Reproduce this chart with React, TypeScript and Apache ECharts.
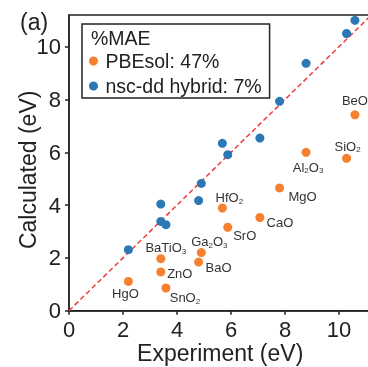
import React, { useEffect, useRef } from "react";
import * as echarts from "echarts";

const materials = ["HgO", "BaTiO3", "ZnO", "SnO2", "BaO", "Ga2O3", "SrO", "HfO2", "CaO", "MgO", "Al2O3", "SiO2", "BeO"];
const experiment = [2.2, 3.4, 3.4, 3.59, 4.8, 4.9, 5.88, 5.68, 7.07, 7.8, 8.78, 10.28, 10.59];
const pbesol = [1.11, 1.97, 1.47, 0.86, 1.84, 2.2, 3.16, 3.89, 3.53, 4.65, 6.0, 5.77, 7.42];
const hybrid = [2.31, 3.38, 4.04, 3.26, 4.17, 4.82, 5.91, 6.34, 6.54, 7.93, 9.37, 10.5, 11.0];
const tickValues = [0, 2, 4, 6, 8, 10];
const seriesNames = ["PBEsol: 47%", "nsc-dd hybrid: 7%"];

// label placement (offset from point centre, px)
const labelOffsets: Record<string, [number, number]> = {
  HgO: [-3, 12],
  BaTiO3: [5, -11],
  ZnO: [19, 2],
  SnO2: [19, 10],
  BaO: [20, 5],
  Ga2O3: [8, -11],
  SrO: [17, 8],
  HfO2: [7, -10],
  CaO: [20, 5],
  MgO: [23, 9],
  Al2O3: [2, 15],
  SiO2: [1, -12],
  BeO: [0, -14],
};

const FONT = "Liberation Sans, Arial, Helvetica, sans-serif";
const INK = "#222";

function chemRich(name: string): string {
  const parts = name.match(/(\d+|\D+)/g) || [];
  return parts.map((p) => (/^\d+$/.test(p) ? `{s|${p}}` : `{n|${p}}`)).join("");
}

export default function App() {
  const ref = useRef<HTMLDivElement>(null);
  useEffect(() => {
    if (!ref.current) return;
    const chart = echarts.init(ref.current, undefined, { renderer: "svg" });
    const orangeData = materials.map((m, i) => ({
      name: m,
      value: [experiment[i], pbesol[i]],
      label: {
        show: true,
        position: "inside",
        offset: labelOffsets[m],
        formatter: chemRich(m),
        rich: {
          n: { fontSize: 13, color: "#333", lineHeight: 15, fontFamily: FONT },
          s: { fontSize: 8, color: "#333", lineHeight: 15, verticalAlign: "bottom", fontFamily: FONT },
        },
      },
    }));
    const blueData = materials.map((m, i) => ({ name: m, value: [experiment[i], hybrid[i]] }));
    const axisCommon = {
      type: "value",
      min: 0,
      max: 11.2,
      interval: 2,
      axisLine: { show: true, onZero: false, lineStyle: { color: INK, width: 1.5 } },
      axisTick: { show: true, length: 4, customValues: tickValues, lineStyle: { color: INK, width: 1.5 } },
      axisLabel: { customValues: tickValues, fontSize: 22, color: INK, fontFamily: FONT, margin: 8 },
      splitLine: { show: false },
      nameLocation: "middle",
      nameMoveOverlap: false,
    };
    chart.setOption({
      animation: false,
      textStyle: { fontFamily: FONT },
      grid: {
        left: 69,
        top: 15,
        width: 302.4,
        height: 295.7,
        show: true,
        borderColor: INK,
        borderWidth: 1.5,
        backgroundColor: "transparent",
        containLabel: false,
        outerBoundsMode: "none",
      },
      xAxis: {
        ...axisCommon,
        name: "Experiment (eV)",
        nameGap: 31,
        nameTextStyle: { fontSize: 23, color: INK, fontFamily: FONT },
      },
      yAxis: {
        ...axisCommon,
        name: "Calculated (eV)",
        nameGap: 30,
        nameTextStyle: { fontSize: 23, color: INK, fontFamily: FONT, padding: [0, 14, 0, 0] },
      },
      legend: {
        left: 82,
        top: 24,
        orient: "vertical",
        padding: [26, 8, 1, 7],
        itemGap: 3,
        itemWidth: 14,
        itemHeight: 9,
        icon: "circle",
        borderColor: INK,
        borderWidth: 1.5,
        borderRadius: 0,
        backgroundColor: "#fff",
        textStyle: { fontSize: 19.5, color: INK, lineHeight: 22, fontFamily: FONT },
        data: seriesNames,
      },
      graphic: [
        { type: "text", left: 20, top: 10, z: 100, style: { text: "(a)", fontSize: 23, fill: INK, fontFamily: FONT } },
        { type: "text", left: 91, top: 28, z: 100, style: { text: "%MAE", fontSize: 19.5, fill: INK, fontFamily: FONT } },
      ],
      series: [
        {
          type: "line",
          data: [[0, 0], [11.2, 11.2]],
          symbol: "none",
          silent: true,
          z: 1,
          lineStyle: { color: "#ee3b3b", width: 1.5, type: [5, 3] },
        },
        {
          name: seriesNames[0],
          type: "scatter",
          symbolSize: 9,
          itemStyle: { color: "#f5802d", opacity: 1 },
          data: orangeData,
          z: 3,
        },
        {
          name: seriesNames[1],
          type: "scatter",
          symbolSize: 9,
          itemStyle: { color: "#2b78b4", opacity: 1 },
          data: blueData,
          z: 3,
        },
      ],
    });
    return () => chart.dispose();
  }, []);
  return <div ref={ref} style={{ position: "fixed", left: 0, top: 0, width: 368, height: 367 }} />;
}
